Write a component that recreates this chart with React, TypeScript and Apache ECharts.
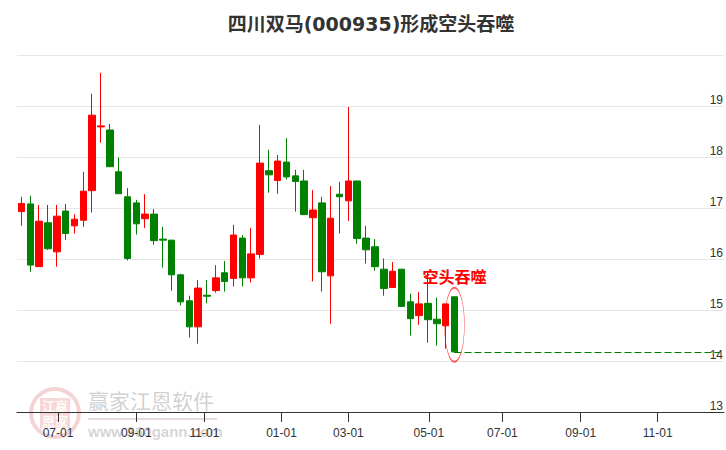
import React, { useEffect, useRef } from 'react';
import * as echarts from 'echarts';

const TITLE = '四川双马(000935)形成空头吞噬';
const SIGNAL = '空头吞噬';

// weekly categories (last trading day of each week); the future part is calendar Fridays
const CATEGORIES = [
  '2023-06-02', '2023-06-09', '2023-06-16', '2023-06-21', '2023-06-30',
  '2023-07-07', '2023-07-14', '2023-07-21', '2023-07-28', '2023-08-04',
  '2023-08-11', '2023-08-18', '2023-08-25', '2023-09-01', '2023-09-08',
  '2023-09-15', '2023-09-22', '2023-09-28', '2023-10-13', '2023-10-20',
  '2023-10-27', '2023-11-03', '2023-11-10', '2023-11-17', '2023-11-24',
  '2023-12-01', '2023-12-08', '2023-12-15', '2023-12-22', '2023-12-29',
  '2024-01-05', '2024-01-12', '2024-01-19', '2024-01-26', '2024-02-02',
  '2024-02-08', '2024-02-23', '2024-03-01', '2024-03-08', '2024-03-15',
  '2024-03-22', '2024-03-29', '2024-04-03', '2024-04-12', '2024-04-19',
  '2024-04-26', '2024-04-30', '2024-05-10', '2024-05-17', '2024-05-24',
  '2024-05-31', '2024-06-07', '2024-06-14', '2024-06-21', '2024-06-28',
  '2024-07-05', '2024-07-12', '2024-07-19', '2024-07-26', '2024-08-02',
  '2024-08-09', '2024-08-16', '2024-08-23', '2024-08-30', '2024-09-06',
  '2024-09-13', '2024-09-20', '2024-09-27', '2024-10-04', '2024-10-11',
  '2024-10-18', '2024-10-25', '2024-11-01', '2024-11-08', '2024-11-15',
  '2024-11-22', '2024-11-29', '2024-12-06', '2024-12-13', '2024-12-20',
];

const OPEN = [
  16.93, 17.08, 15.85, 16.71, 16.14, 16.94, 16.65, 16.76, 17.34, 18.59,
  18.53, 17.71, 17.22, 17.10, 16.79, 16.88, 16.39, 16.37, 15.69, 15.18,
  14.67, 15.29, 15.38, 15.73, 15.62, 16.41, 15.63, 16.09, 17.73, 17.54,
  17.90, 17.63, 17.53, 16.81, 17.10, 15.67, 17.27, 17.14, 17.53, 16.41,
  16.24, 15.80, 15.44, 15.80, 15.16, 14.89, 15.13, 14.82, 14.69, 15.26,
];
const CLOSE = [
  17.09, 15.88, 16.74, 16.20, 16.84, 16.50, 16.78, 17.33, 18.82, 18.61,
  17.81, 17.28, 16.01, 16.69, 16.88, 16.36, 16.37, 15.69, 15.16, 14.67,
  15.43, 15.27, 15.63, 15.56, 16.47, 15.63, 16.10, 17.88, 17.65, 17.92,
  17.61, 17.52, 16.87, 16.96, 15.75, 16.80, 17.22, 17.53, 16.40, 16.18,
  15.85, 15.42, 15.76, 15.07, 14.83, 15.12, 14.81, 14.73, 15.12, 14.18,
];
const LOW = [
  16.65, 15.75, 15.85, 16.18, 15.85, 16.37, 16.50, 16.63, 16.91, 18.28,
  17.81, 17.28, 15.97, 16.48, 16.61, 16.28, 15.83, 15.38, 15.09, 14.46,
  14.34, 15.13, 15.34, 15.36, 15.46, 15.46, 15.54, 16.01, 17.30, 17.28,
  17.56, 16.93, 16.87, 15.56, 15.36, 14.73, 16.50, 16.75, 16.30, 15.91,
  15.77, 15.28, 15.44, 15.07, 14.50, 14.71, 14.36, 14.30, 14.24, 14.16,
];
const HIGH = [
  17.22, 17.24, 17.06, 17.06, 17.06, 17.08, 16.88, 17.71, 19.24, 19.65,
  18.65, 17.99, 17.39, 17.16, 17.27, 16.98, 16.63, 16.37, 15.71, 15.28,
  15.59, 15.59, 15.88, 15.96, 16.67, 16.47, 16.61, 18.63, 18.14, 18.04,
  18.37, 17.75, 17.75, 17.35, 17.22, 17.43, 17.51, 18.98, 17.53, 16.65,
  16.39, 16.01, 15.94, 15.80, 15.32, 15.35, 15.74, 15.24, 15.12, 15.26,
];

const TICK_DATES = [
  '2023-07-01', '2023-09-01', '2023-11-01', '2024-01-01', '2024-03-01',
  '2024-05-01', '2024-07-01', '2024-09-01', '2024-11-01',
];
const TICK_LABELS = ['07-01', '09-01', '11-01', '01-01', '03-01', '05-01', '07-01', '09-01', '11-01'];

const Y_MIN = 13;
const Y_MAX = 20;
const Y_STEP = 1;

function dayNum(s: string) {
  const [y, m, d] = s.split('-').map(Number);
  return Date.UTC(y, m - 1, d) / 86400000;
}

function tickPos(date: string) {
  const t = dayNum(date);
  for (let i = 0; i < CATEGORIES.length - 1; i++) {
    const a = dayNum(CATEGORIES[i]);
    const b = dayNum(CATEGORIES[i + 1]);
    if (t >= a && t < b) return i + (t - a) / (b - a);
  }
  return CATEGORIES.length - 1;
}

const UP = '#ff0000';
const DOWN = '#008000';

export default function App() {
  const ref = useRef<HTMLDivElement>(null);

  useEffect(() => {
    if (!ref.current) return;
    const chart = echarts.init(ref.current, undefined, { renderer: 'svg' });
    const candles = OPEN.map((o, i) => [o, CLOSE[i], LOW[i], HIGH[i]]);
    const last = OPEN.length - 1;
    const tickValues = TICK_DATES.map(tickPos);
    const labelFor = (v: number) => {
      let best = 0;
      for (let i = 1; i < tickValues.length; i++) {
        if (Math.abs(tickValues[i] - v) < Math.abs(tickValues[best] - v)) best = i;
      }
      return TICK_LABELS[best];
    };

    chart.setOption({
      animation: false,
      backgroundColor: '#ffffff',
      grid: { left: 17, right: 2, top: 55, bottom: 38, containLabel: false },
      xAxis: [
        {
          type: 'category',
          data: CATEGORIES,
          boundaryGap: true,
          axisLine: { show: true, lineStyle: { color: '#333333', width: 1 } },
          axisTick: { show: false },
          axisLabel: { show: false },
          splitLine: { show: false },
        },
        {
          type: 'value',
          position: 'bottom',
          min: -0.5,
          max: CATEGORIES.length - 0.5,
          axisLine: { show: false },
          axisTick: {
            show: true,
            length: 10,
            customValues: tickValues,
            lineStyle: { color: '#333333', width: 1 },
          },
          axisLabel: {
            show: true,
            customValues: tickValues,
            formatter: (v: number) => labelFor(v),
            color: '#333333',
            fontSize: 12,
            fontFamily: 'Liberation Sans, Arial, sans-serif',
            margin: 15,
          },
          splitLine: { show: false },
        },
      ],
      yAxis: {
        type: 'value',
        position: 'right',
        min: Y_MIN,
        max: Y_MAX,
        interval: Y_STEP,
        axisLine: { show: false },
        axisTick: { show: false },
        axisLabel: {
          inside: true,
          verticalAlign: 'bottom',
          showMaxLabel: false,
          margin: 1,
          color: '#333333',
          fontSize: 12,
          fontFamily: 'Liberation Sans, Arial, sans-serif',
        },
        splitLine: { show: true, lineStyle: { color: '#e6e6e6', width: 1 } },
      },
      graphic: [
        {
          type: 'text',
          z: 10,
          style: {
            text: TITLE,
            x: 371,
            y: 24,
            align: 'center',
            verticalAlign: 'middle',
            fill: '#333333',
            fontSize: 19,
            fontWeight: 'bold',
            fontFamily: 'DejaVu Sans, Noto Sans CJK SC, sans-serif',
          },
        },
        {
          type: 'circle',
          z: -1,
          shape: { cx: 55, cy: 413, r: 24 },
          style: { fill: 'none', stroke: 'rgba(225,110,110,0.30)', lineWidth: 4 },
        },
        {
          type: 'rect',
          z: -1,
          shape: { x: 40, y: 398, width: 30, height: 30 },
          style: { fill: 'rgba(225,110,110,0.28)' },
        },
        {
          type: 'text',
          z: -1,
          style: {
            text: '江赢\n恩家',
            x: 55,
            y: 413,
            align: 'center',
            verticalAlign: 'middle',
            fill: 'rgba(255,255,255,0.9)',
            fontSize: 13,
            lineHeight: 15,
            fontWeight: 'bold',
            fontFamily: 'Noto Sans CJK SC, sans-serif',
          },
        },
        {
          type: 'text',
          z: -1,
          style: {
            text: '赢家江恩软件',
            x: 88,
            y: 400,
            align: 'left',
            verticalAlign: 'middle',
            fill: 'rgba(150,150,150,0.45)',
            fontSize: 21,
            fontFamily: 'Noto Sans CJK SC, sans-serif',
          },
        },
        {
          type: 'rect',
          z: -1,
          shape: { x: 88, y: 418, width: 129, height: 2 },
          style: { fill: 'rgba(200,170,170,0.45)' },
        },
        {
          type: 'text',
          z: -1,
          style: {
            text: 'www.360gann.com',
            x: 88,
            y: 431,
            align: 'left',
            verticalAlign: 'middle',
            fill: 'rgba(160,160,160,0.45)',
            fontSize: 15,
            fontWeight: 'bold',
            fontFamily: 'Liberation Sans, Arial, sans-serif',
          },
        },
      ],
      series: [
        {
          type: 'candlestick',
          xAxisIndex: 0,
          yAxisIndex: 0,
          data: candles,
          barWidth: 7,
          itemStyle: {
            color: UP,
            color0: DOWN,
            borderColor: UP,
            borderColor0: DOWN,
            borderWidth: 1,
          },
          markLine: {
            silent: true,
            symbol: ['none', 'none'],
            label: { show: false },
            lineStyle: { color: DOWN, type: [7, 3], width: 1 },
            data: [
              [
                { coord: [CATEGORIES[last], CLOSE[last]] },
                { coord: [CATEGORIES[CATEGORIES.length - 1], CLOSE[last]] },
              ],
            ],
            z: 1,
          },
          markPoint: {
            silent: true,
            data: [
              {
                coord: [CATEGORIES[last], (HIGH[last] + LOW[last]) / 2],
                symbol: 'circle',
                symbolSize: [20, 74],
                itemStyle: { color: 'rgba(0,0,0,0)', borderColor: 'rgba(255,0,0,0.65)', borderWidth: 1 },
                label: { show: false },
              },
              {
                coord: [CATEGORIES[last], HIGH[last]],
                symbol: 'circle',
                symbolSize: 0,
                label: {
                  show: true,
                  formatter: SIGNAL,
                  position: 'inside',
                  offset: [0, -21],
                  color: '#ff0000',
                  fontSize: 16,
                  fontWeight: 'bold',
                  fontFamily: 'Noto Sans CJK SC, sans-serif',
                },
              },
            ],
          },
        },
      ],
    });

    return () => chart.dispose();
  }, []);

  return (
    <div
      ref={ref}
      style={{ position: 'fixed', left: 0, top: 0, width: 726, height: 450, background: '#fff' }}
    />
  );
}
